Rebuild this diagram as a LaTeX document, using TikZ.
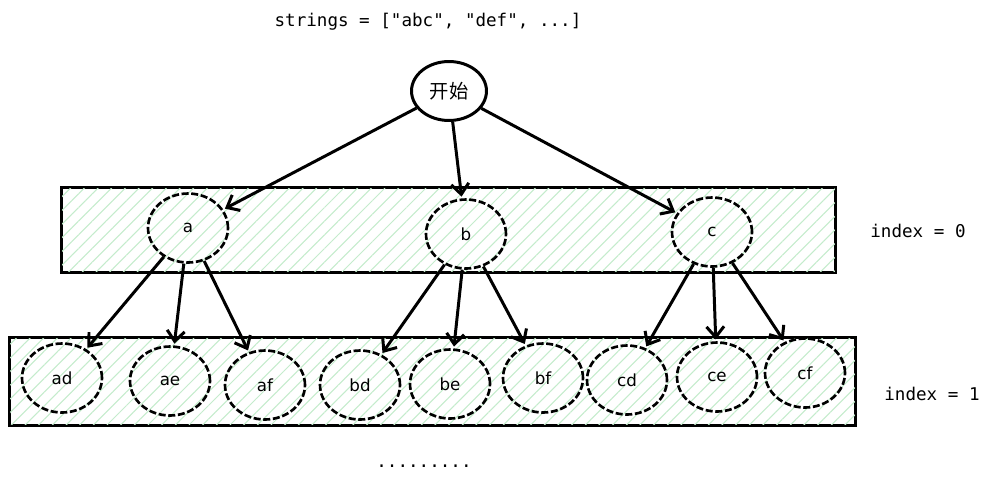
\documentclass[tikz,border=0pt]{standalone}
\usepackage{fontspec}
\usepackage{tikz}
\usetikzlibrary{shapes.geometric,arrows.meta,patterns.meta}
\setmainfont{DejaVu Sans}
\newfontfamily\cjkfont{Noto Sans CJK SC}
\newfontfamily\codefont{DejaVu Sans Mono}
\definecolor{hatchgreen}{RGB}{196,236,204}

\begin{document}
\begin{tikzpicture}[x=0.02cm, y=-0.02cm, line width=1.5pt,
	state/.style={ellipse, draw, line width=1.5pt, dash pattern=on 4pt off 1.5pt, minimum width=1.6cm, minimum height=1.38cm, inner sep=0pt, font=\fontsize{9.5}{10}\selectfont},
	level/.style={rectangle, draw, line width=1.4pt, fill=white, inner sep=0pt},
	hatch/.style={pattern={Lines[angle=45,distance=5.5pt,line width=0.6pt]}, pattern color=hatchgreen},
	edge/.style={-{Straight Barb[length=6pt,width=10pt]}, line width=1.7pt, shorten >=1pt},
	code/.style={font=\codefont\fontsize{10}{12}\selectfont}]
	\useasboundingbox (0,0) rectangle (993,491);
	% levels
	\node [level, minimum width=15.46cm, minimum height=1.68cm] (row0) at (448.5,230) {};
	\fill [hatch] (row0.south west) rectangle (row0.north east);
	\node [level, minimum width=16.9cm, minimum height=1.74cm] (row1) at (432.5,381.5) {};
	\fill [hatch] (row1.south west) rectangle (row1.north east);
	\draw [line width=1.4pt] (row0.south west) rectangle (row0.north east);
	\draw [line width=1.4pt] (row1.south west) rectangle (row1.north east);
	% texts
	\node [code] (input) at (428,22) {strings = ["abc", "def", ...]};
	\node [code] (idx0) at (918,231) {index = 0};
	\node [code] (idx1) at (932,394) {index = 1};
	\node [code] (more) at (424,466) {.........};
	% start
	\node [ellipse, draw, line width=1.7pt, minimum width=1.5cm, minimum height=1.18cm, inner sep=0pt, font=\cjkfont\fontsize{11}{12}\selectfont] (start) at (449,91) {开始};
	% index 0
	\node [state] (a) at (188,228) {a};
	\node [state] (b) at (466,234) {b};
	\node [state] (c) at (712,232) {c};
	% index 1
	\node [state] (ad) at (62,378) {ad};
	\node [state] (ae) at (170,381) {ae};
	\node [state] (af) at (265,385) {af};
	\node [state] (bd) at (360,385) {bd};
	\node [state] (be) at (450,384) {be};
	\node [state] (bf) at (543,378) {bf};
	\node [state] (cd) at (627,380) {cd};
	\node [state] (ce) at (717,377) {ce};
	\node [state] (cf) at (805,373) {cf};
	% edges
	\draw [edge] (start) -- (a);
	\draw [edge] (start) -- (b);
	\draw [edge] (start) -- (c);
	\draw [edge] (a) -- (ad);
	\draw [edge] (a) -- (ae);
	\draw [edge] (a) -- (af);
	\draw [edge] (b) -- (bd);
	\draw [edge] (b) -- (be);
	\draw [edge] (b) -- (bf);
	\draw [edge] (c) -- (cd);
	\draw [edge] (c) -- (ce);
	\draw [edge] (c) -- (cf);
\end{tikzpicture}
\end{document}
